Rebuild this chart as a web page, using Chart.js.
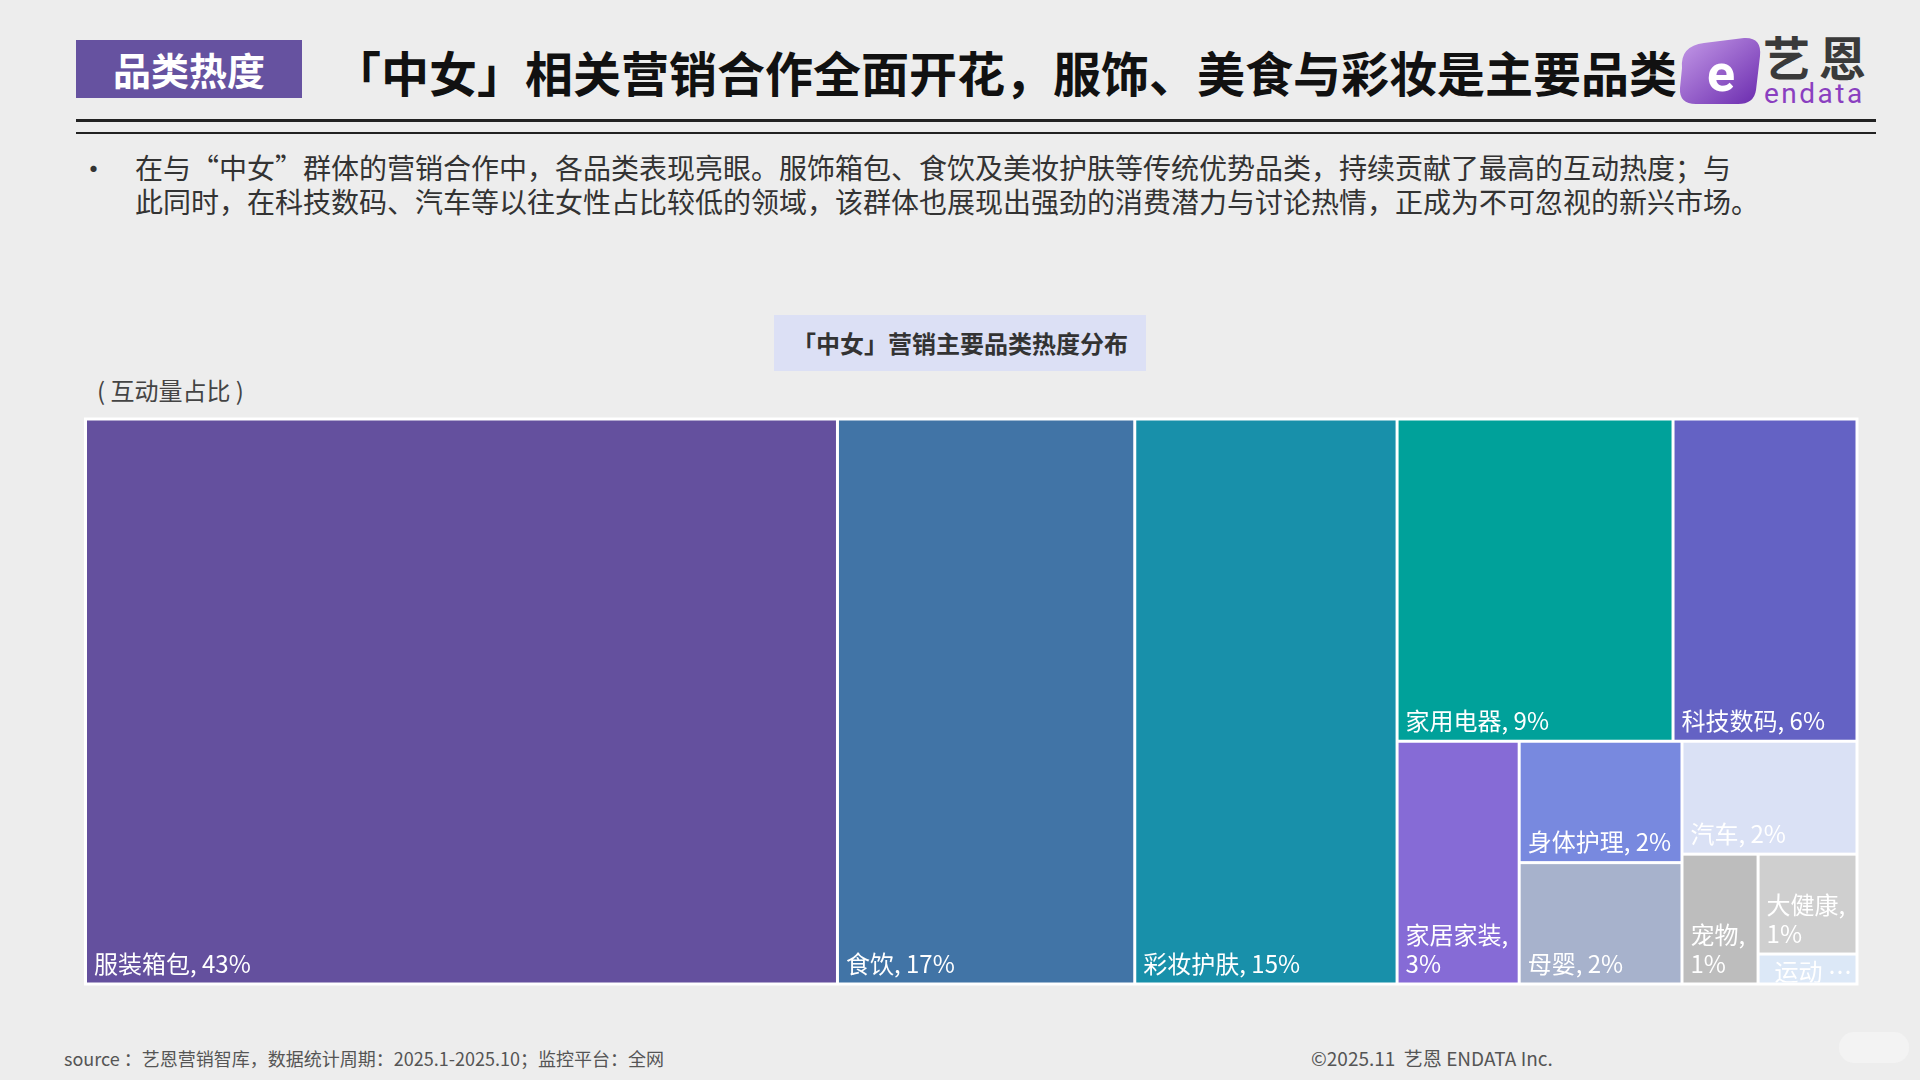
<!DOCTYPE html>
<html lang="zh-CN">
<head>
<meta charset="utf-8">
<title>品类热度</title>
<script src="https://cdn.jsdelivr.net/npm/chart.js@4.4.1/dist/chart.umd.min.js"></script>
<style>
  html, body { margin: 0; padding: 0; }
  body {
    width: 1920px; height: 1080px; position: relative; overflow: hidden;
    background: #ededed; font-family: "Noto Sans CJK SC", "Noto Sans", sans-serif; color: #333;
  }
  .tag {
    position: absolute; left: 76px; top: 40px; width: 226px; height: 58px;
    background: #6652a0; color: #fff; font-size: 38px; font-weight: 700;
    line-height: 58px; text-align: center;
  }
  .headline {
    position: absolute; left: 333px; top: 39px; font-size: 48px; font-weight: 700;
    line-height: 64px; color: #111; white-space: nowrap;
  }
  .rule1 { position: absolute; left: 76px; top: 119px; width: 1800px; height: 3px; background: #222; }
  .rule2 { position: absolute; left: 76px; top: 132px; width: 1800px; height: 2px; background: #222; }
  .bullet { position: absolute; left: 79px; top: 150px; font-size: 29px; line-height: 34px; color: #333; }
  .intro {
    position: absolute; left: 135px; top: 150px; font-size: 28px; line-height: 34px;
    color: #333; white-space: nowrap;
  }
  .chartTitle {
    position: absolute; left: 774px; top: 315px; width: 372px; height: 56px;
    background: #dce0f5; font-size: 24px; font-weight: 700; color: #333;
    line-height: 56px; text-align: center;
  }
  .unit { position: absolute; left: 97px; top: 374px; font-size: 24px; line-height: 32px; color: #444; white-space: pre; }
  #chartBox { position: absolute; left: 80px; top: 412px; width: 1784px; height: 578px; }
  .foot { position: absolute; top: 1046px; font-size: 18px; line-height: 24px; color: #555; white-space: nowrap; }
  .logoText { position: absolute; left: 1763px; top: 26px; font-size: 47px; font-weight: 700; color: #3a3a3a; letter-spacing: 9px; line-height: 60px; }
  .logoSub { position: absolute; left: 1764px; top: 80px; font-family: Roboto, sans-serif; font-size: 28px; color: #8a3fc0; letter-spacing: 2.5px; line-height: 28px; }
  .corner { position: absolute; left: 1839px; top: 1032px; width: 70px; height: 31px; border-radius: 15px; background: #f3f3f3; }
</style>
</head>
<body>
<div class="tag">品类热度</div>
<div class="headline">「中女」相关营销合作全面开花，服饰、美食与彩妆是主要品类</div>
<svg style="position:absolute;left:1676px;top:34px" width="90" height="74" viewBox="0 0 90 74">
  <defs>
    <linearGradient id="lg" x1="0" y1="0" x2="1" y2="1">
      <stop offset="0" stop-color="#c59be8"/>
      <stop offset="1" stop-color="#6a2aae"/>
    </linearGradient>
  </defs>
  <path d="M6,34 Q4,12 28,9 L68,4 Q86,3 84,22 L80,56 Q78,70 62,70 L20,70 Q3,70 4,54 Z" fill="url(#lg)"/>
  <text x="45" y="57" text-anchor="middle" font-family="Roboto, sans-serif" font-weight="700" font-size="52" fill="#fff">e</text>
</svg>
<div class="logoText">艺恩</div>
<div class="logoSub">endata</div>
<div class="rule1"></div>
<div class="rule2"></div>
<div class="bullet">•</div>
<div class="intro">在与“中女”群体的营销合作中，各品类表现亮眼。服饰箱包、食饮及美妆护肤等传统优势品类，持续贡献了最高的互动热度；与<br>此同时，在科技数码、汽车等以往女性占比较低的领域，该群体也展现出强劲的消费潜力与讨论热情，正成为不可忽视的新兴市场。</div>
<div class="chartTitle">「中女」营销主要品类热度分布</div>
<div class="unit">( 互动量占比 )</div>
<div id="chartBox"><canvas id="treemapChart"></canvas></div>
<div class="foot" style="left:64px">source ：艺恩营销智库，数据统计周期：2025.1-2025.10；监控平台：全网</div>
<div class="foot" style="left:1311px; font-size:19px">©2025.11&nbsp; 艺恩 ENDATA Inc.</div>
<div class="corner"></div>

<script>
// 互动量占比（%），按从大到小排列
const categories = ['服装箱包', '食饮', '彩妆护肤', '家用电器', '科技数码', '家居家装', '身体护理', '母婴', '汽车', '宠物', '大健康', '运动'];
const shareValues = [43, 17, 15, 9, 6, 3, 2, 2, 2, 1, 1, 0.3];

const cellColors = ['#64509e', '#4174a6', '#1890aa', '#00a19a', '#6462c4', '#866bd6',
  '#7889df', '#a7b2cc', '#dae1f5', '#bdbdbd', '#cfcfcf', '#dce8f7'];

// layout grid units
const LAYOUT_W = 340;
const LAYOUT_H = 100;

function rowWorst(row, side, unitArea) {
  const sum = row.reduce((a, b) => a + b, 0);
  const thick = sum * unitArea / side;
  let r = 0;
  row.forEach(v => {
    const len = v * unitArea / thick;
    r = Math.max(r, thick / len, len / thick);
  });
  return r;
}

// squarified treemap in layout units
function squarify(values, x0, y0, x1, y1) {
  const cells = [];
  let rest = values.reduce((a, b) => a + b, 0);
  let i = 0;
  while (i < values.length) {
    const w = x1 - x0, h = y1 - y0;
    const side = Math.min(w, h);
    const unitArea = (w * h) / rest;
    const row = [values[i]];
    let j = i + 1;
    let best = rowWorst(row, side, unitArea);
    while (j < values.length) {
      const next = rowWorst(row.concat(values[j]), side, unitArea);
      if (next > best) break;
      row.push(values[j]);
      best = next;
      j++;
    }
    const rowSum = row.reduce((a, b) => a + b, 0);
    const thick = rowSum * unitArea / side;
    let pos = 0;
    row.forEach((v, k) => {
      const len = v * unitArea / thick;
      if (w >= h) {
        cells.push({ index: i + k, x0: x0, x1: x0 + thick, y0: y0 + pos, y1: y0 + pos + len });
      } else {
        cells.push({ index: i + k, x0: x0 + pos, x1: x0 + pos + len, y0: y0, y1: y0 + thick });
      }
      pos += len;
    });
    if (w >= h) x0 += thick; else y0 += thick;
    rest -= rowSum;
    i = j;
  }
  return cells;
}

const treemapPlugin = {
  id: 'treemap',
  beforeDatasetsDraw(chart) {
    const { ctx, chartArea, scales: { x, y } } = chart;
    const cells = squarify(shareValues, x.min, y.min, x.max, y.max);
    const gap = 1.5;
    ctx.save();
    ctx.fillStyle = '#ffffff';
    ctx.fillRect(chartArea.left - 1.5, chartArea.top - 1.5, chartArea.width + 3, chartArea.height + 3);

    ctx.font = '24px "Noto Sans CJK SC"';
    cells.forEach(c => {
      const left = x.getPixelForValue(c.x0) + gap;
      const right = x.getPixelForValue(c.x1) - gap;
      const top = y.getPixelForValue(c.y0) + gap;
      const bottom = y.getPixelForValue(c.y1) - gap;
      ctx.fillStyle = cellColors[c.index];
      ctx.fillRect(left, top, right - left, bottom - top);

      // label
      const name = categories[c.index];
      const pct = shareValues[c.index] + '%';
      const pad = 7;
      const lineH = 29;
      let lines = [name + ', ' + pct];
      if (ctx.measureText(lines[0]).width > right - left - 2 * pad) {
        lines = [name + ',', pct];
      }
      ctx.save();
      ctx.beginPath();
      ctx.rect(left, top, right - left, bottom - top);
      ctx.clip();
      ctx.fillStyle = '#ffffff';
      if (lines.length * lineH + 10 > bottom - top) {
        ctx.textBaseline = 'top';
        ctx.fillText(name + ' …', left + pad + 8, top + 4);
      } else {
        ctx.textBaseline = 'alphabetic';
        lines.forEach((t, k) => {
          ctx.fillText(t, left + pad, bottom - 10 - (lines.length - 1 - k) * lineH);
        });
      }
      ctx.restore();
    });
    ctx.restore();
  }
};

document.fonts.load('24px "Noto Sans CJK SC"').then(function () {
  const ctx = document.getElementById('treemapChart').getContext('2d');
  new Chart(ctx, {
    type: 'scatter',
    data: {
      datasets: [{ label: '互动量占比', data: [] }]
    },
    options: {
      responsive: true,
      maintainAspectRatio: false,
      animation: false,
      layout: { padding: { left: 5.5, top: 7, right: 7, bottom: 6 } },
      scales: {
        x: { type: 'linear', min: 0, max: LAYOUT_W, display: false },
        y: { type: 'linear', min: 0, max: LAYOUT_H, reverse: true, display: false }
      },
      plugins: {
        legend: { display: false },
        tooltip: { enabled: false }
      }
    },
    plugins: [treemapPlugin]
  });
});
</script>
</body>
</html>
